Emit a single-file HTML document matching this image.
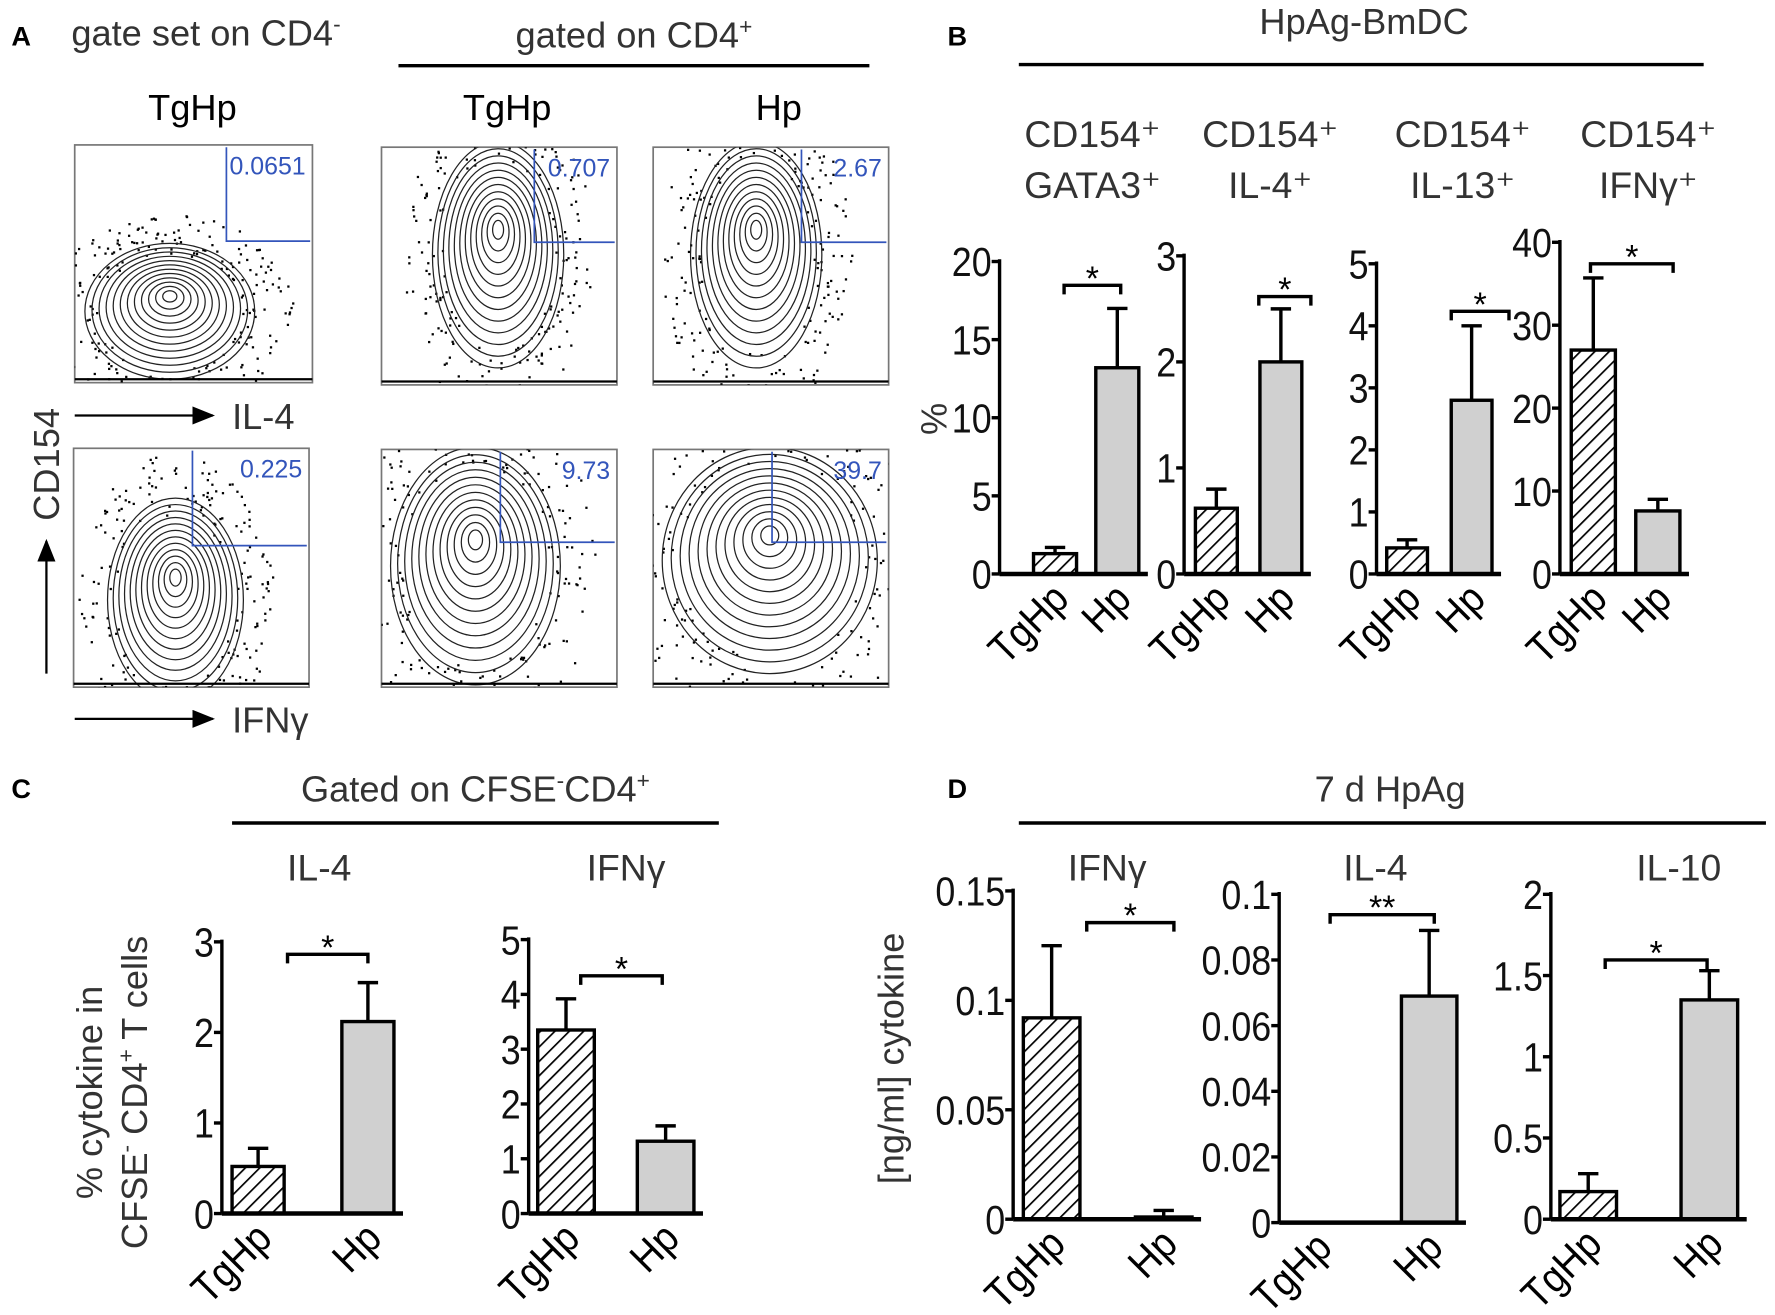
<!DOCTYPE html>
<html><head><meta charset="utf-8">
<style>
html,body{margin:0;padding:0;background:#fff;}
svg{display:block;font-family:"Liberation Sans",sans-serif;}
</style></head>
<body>
<svg id="fig" width="1775" height="1315" viewBox="0 0 1568 1161.6" xmlns="http://www.w3.org/2000/svg">
<defs>
<pattern id="hatch" patternUnits="userSpaceOnUse" width="9" height="9" patternTransform="rotate(45)">
<rect width="9" height="9" fill="#fff"/><line x1="0" y1="0" x2="0" y2="9" stroke="#000" stroke-width="3"/>
</pattern>
<marker id="arr" markerWidth="10" markerHeight="8" refX="9" refY="4" orient="auto"><path d="M0,0 L10,4 L0,8 z" fill="#000"/></marker>
</defs>
<g fill="#333" font-size="32">
<text x="10" y="40" font-weight="bold" font-size="24" fill="#000">A</text>
<text x="63" y="40">gate set on CD4<tspan font-size="20" dy="-12">-</tspan></text>
<text x="560" y="42" text-anchor="middle">gated on CD4<tspan font-size="20" dy="-12">+</tspan></text>
<line x1="352" y1="58" x2="768" y2="58" stroke="#000" stroke-width="3"/>
<text x="170" y="106" text-anchor="middle" fill="#000">TgHp</text>
<text x="448" y="106" text-anchor="middle" fill="#000">TgHp</text>
<text x="688" y="106" text-anchor="middle" fill="#000">Hp</text>
<line x1="66" y1="367" x2="188" y2="367" stroke="#000" stroke-width="2" marker-end="url(#arr)"/>
<text x="205" y="379">IL-4</text>
<line x1="66" y1="635" x2="188" y2="635" stroke="#000" stroke-width="2" marker-end="url(#arr)"/>
<text x="205" y="647">IFNγ</text>
<line x1="41" y1="595" x2="41" y2="478" stroke="#000" stroke-width="2" marker-end="url(#arr)"/>
<text transform="translate(52,460) rotate(-90)">CD154</text>

<text x="837" y="40" font-weight="bold" font-size="24" fill="#000">B</text>
<text x="1205" y="30" text-anchor="middle">HpAg-BmDC</text>
<line x1="900" y1="57" x2="1505" y2="57" stroke="#000" stroke-width="3"/>
<text transform="translate(836,370) rotate(-90)" text-anchor="middle">%</text>

<text x="10" y="705" font-weight="bold" font-size="24" fill="#000">C</text>
<text x="420" y="708" text-anchor="middle">Gated on CFSE<tspan font-size="20" dy="-12">-</tspan><tspan dy="12">CD4</tspan><tspan font-size="20" dy="-12">+</tspan></text>
<line x1="205" y1="727" x2="635" y2="727" stroke="#000" stroke-width="3"/>
<text transform="translate(90,965) rotate(-90)" text-anchor="middle">% cytokine in</text>
<text transform="translate(130,965) rotate(-90)" text-anchor="middle">CFSE<tspan font-size="20" dy="-12">-</tspan><tspan dy="12"> CD4</tspan><tspan font-size="20" dy="-12">+</tspan><tspan dy="12"> T cells</tspan></text>

<text x="837" y="705" font-weight="bold" font-size="24" fill="#000">D</text>
<text x="1228" y="708" text-anchor="middle">7 d HpAg</text>
<line x1="900" y1="727" x2="1560" y2="727" stroke="#000" stroke-width="3"/>
<text transform="translate(798,935) rotate(-90)" text-anchor="middle">[ng/ml] cytokine</text>
</g>
<g id="flow"></g>
<g id="charts"></g>
</svg>
<script>
// ---- chart data ----
const categories = ["TgHp","Hp"];
const bTitles1 = ["CD154⁺","CD154⁺","CD154⁺","CD154⁺"];
const bTitles2 = ["GATA3⁺","IL-4⁺","IL-13⁺","IFNγ⁺"];
const b1Means = [1.3, 13.2];   const b1Err = [1.7, 17];   const b1Ticks = ["0","5","10","15","20"];
const b2Means = [0.62, 2.0];   const b2Err = [0.8, 2.5];  const b2Ticks = ["0","1","2","3"];
const b3Means = [0.42, 2.8];   const b3Err = [0.55, 4.0]; const b3Ticks = ["0","1","2","3","4","5"];
const b4Means = [27, 7.6];     const b4Err = [35.7, 9];   const b4Ticks = ["0","10","20","30","40"];
const c1Means = [0.52, 2.12];  const c1Err = [0.72, 2.55]; const c1Ticks = ["0","1","2","3"];
const c2Means = [3.35, 1.32];  const c2Err = [3.92, 1.6];  const c2Ticks = ["0","1","2","3","4","5"];
const d1Means = [0.092, 0.001]; const d1Err = [0.125, 0.004]; const d1Ticks = ["0","0.05","0.1","0.15"];
const d2Means = [0, 0.069];    const d2Err = [0, 0.089];  const d2Ticks = ["0","0.02","0.04","0.06","0.08","0.1"];
const d3Means = [0.17, 1.35];  const d3Err = [0.28, 1.53]; const d3Ticks = ["0","0.5","1","1.5","2"];
const flowGates = ["0.0651","0.707","2.67","0.225","9.73","39.7"];

const NS="http://www.w3.org/2000/svg";
function mk(tag,attrs,parent){const e=document.createElementNS(NS,tag);for(const k in attrs)e.setAttribute(k,attrs[k]);parent.appendChild(e);return e;}
const root=document.getElementById('charts');

function chart(name,cfg,means,errs,ticks){
  const g=mk('g',{},root);
  
  
  const max=parseFloat(ticks[ticks.length-1]);
  const y=v=>cfg.y0-(v/max)*(cfg.y0-cfg.yTop);
  const bx=[cfg.b0,cfg.b1];
  means.forEach((m,i)=>{
    const cx=bx[i]+cfg.bw/2;
    if(errs[i]>m){
      mk('line',{x1:cx,y1:y(m),x2:cx,y2:y(errs[i]),stroke:'#000','stroke-width':3},g);
      mk('line',{x1:cx-9,y1:y(errs[i]),x2:cx+9,y2:y(errs[i]),stroke:'#000','stroke-width':3},g);
    }
    if(m>0){
      const r=mk('rect',{x:bx[i],y:y(m),width:cfg.bw,height:cfg.y0-y(m),fill:i==0?'url(#hatch)':'#d0d0d0',stroke:'#000','stroke-width':3},g);
      
      
    }
    const t=mk('text',{transform:`translate(${cx+14},${cfg.y0+24}) rotate(-45) scale(0.9,1)`,'text-anchor':'end','font-size':37,fill:'#000'},g);
    t.textContent=categories[i];
    
    
  });
  mk('line',{x1:cfg.ax,y1:cfg.yTop-2,x2:cfg.ax,y2:cfg.y0,stroke:'#000','stroke-width':3},g);
  mk('line',{x1:cfg.ax,y1:cfg.y0,x2:bx[1]+cfg.bw+8,y2:cfg.y0,stroke:'#000','stroke-width':4},g);
  ticks.forEach(tk=>{
    const v=parseFloat(tk);
    mk('line',{x1:cfg.ax-7,y1:y(v),x2:cfg.ax,y2:y(v),stroke:'#000','stroke-width':3},g);
    const t=mk('text',{transform:`translate(${cfg.ax-7},${y(v)+13}) scale(0.88,1)`,'text-anchor':'end','font-size':36,fill:'#111'},g);
    t.textContent=tk;
    
    
  });
  const br=cfg.br;
  mk('path',{d:`M${br[0]},${br[2]+8} V${br[2]} H${br[1]} V${br[2]+8}`,fill:'none',stroke:'#000','stroke-width':3},g);
  const s=mk('text',{x:(br[0]+br[1])/2,y:br[2]+4,'text-anchor':'middle','font-size':30,fill:'#000'},g);
  s.textContent=cfg.star||'*';
  
  
  if(cfg.t1){
    const a=mk('text',{x:cfg.tx,y:cfg.ty,'text-anchor':'middle','font-size':33,fill:'#333'},g);a.textContent=cfg.t1;
    
    
  }
  if(cfg.t2){
    const a=mk('text',{x:cfg.tx,y:cfg.ty+45,'text-anchor':'middle','font-size':33,fill:'#333'},g);a.textContent=cfg.t2;
    
    
  }
}
chart('chart-b-gata3',{ax:883,y0:507,yTop:231,b0:913,b1:968,bw:38,br:[940,990,252],t1:bTitles1[0],t2:bTitles2[0],tx:965,ty:130},b1Means,b1Err,b1Ticks);
chart('chart-b-il4',{ax:1046,y0:507,yTop:226,b0:1056,b1:1113,bw:37,br:[1112,1158,262],t1:bTitles1[1],t2:bTitles2[1],tx:1122,ty:130},b2Means,b2Err,b2Ticks);
chart('chart-b-il13',{ax:1216,y0:507,yTop:233,b0:1225,b1:1282,bw:36,br:[1282,1333,275],t1:bTitles1[2],t2:bTitles2[2],tx:1292,ty:130},b3Means,b3Err,b3Ticks);
chart('chart-b-ifng',{ax:1378,y0:507,yTop:214,b0:1388,b1:1445,bw:39,br:[1405,1478,233],t1:bTitles1[3],t2:bTitles2[3],tx:1456,ty:130},b4Means,b4Err,b4Ticks);
chart('chart-c-il4',{ax:196,y0:1072,yTop:832,b0:205,b1:302,bw:46,br:[254,325,843],t1:'IL-4',tx:282,ty:778},c1Means,c1Err,c1Ticks);
chart('chart-c-ifng',{ax:467,y0:1072,yTop:830,b0:475,b1:563,bw:50,br:[513,585,862],t1:'IFNγ',tx:553,ty:778},c2Means,c2Err,c2Ticks);
chart('chart-d-ifng',{ax:895,y0:1077,yTop:787,b0:904,b1:1003,bw:50,br:[960,1037,815],t1:'IFNγ',tx:978,ty:778},d1Means,d1Err,d1Ticks);
chart('chart-d-il4',{ax:1130,y0:1080,yTop:790,b0:1140,b1:1238,bw:49,br:[1175,1267,808],star:'**',t1:'IL-4',tx:1215,ty:778},d2Means,d2Err,d2Ticks);
chart('chart-d-il10',{ax:1370,y0:1077,yTop:790,b0:1378,b1:1485,bw:50,br:[1418,1508,848],t1:'IL-10',tx:1483,ty:778},d3Means,d3Err,d3Ticks);

// ---- flow plots (illustrative) ----
const flow=document.getElementById('flow');
const plots=[
 {x:66,y:128,w:210,h:210,gx:200,gy:213,cx:150,cy:275,rx:75,ry:60},
 {x:337,y:130,w:208,h:210,gx:472,gy:214,cx:440,cy:225,rx:58,ry:100},
 {x:577,y:130,w:208,h:210,gx:708,gy:214,cx:668,cy:225,rx:58,ry:100},
 {x:65,y:396,w:208,h:211,gx:170,gy:482,cx:155,cy:530,rx:60,ry:90},
 {x:337,y:397,w:208,h:210,gx:442,gy:479,cx:420,cy:500,rx:75,ry:105},
 {x:577,y:397,w:208,h:210,gx:682,gy:479,cx:680,cy:495,rx:95,ry:100}
];
let seed=7;function rnd(){seed=(seed*16807)%2147483647;return seed/2147483647;}
plots.forEach((p,i)=>{
  const g=mk('g',{},flow);
  
  
  const cp=mk('clipPath',{id:'cp'+i},g);
  mk('rect',{x:p.x,y:p.y,width:p.w,height:p.h},cp);
  mk('rect',{x:p.x,y:p.y,width:p.w,height:p.h,fill:'#fff',stroke:'#777','stroke-width':1.5},g);
  const inner=mk('g',{'clip-path':`url(#cp${i})`},g);
  for(let k=0;k<220;k++){
    const a=rnd()*6.283,r=0.85+rnd()*0.6;
    const dx=p.cx+Math.cos(a)*p.rx*r, dy=p.cy+Math.sin(a)*p.ry*r;
    mk('rect',{x:dx,y:dy,width:2,height:2,fill:'#000'},inner);
  }
  for(let k=1;k<=12;k++){
    mk('ellipse',{cx:p.cx,cy:p.cy-(12-k)*p.ry*0.02,rx:p.rx*k/12,ry:p.ry*k/12,fill:'none',stroke:'#222','stroke-width':1.1},inner);
  }
  mk('line',{x1:p.x,y1:p.y+p.h-3,x2:p.x+p.w,y2:p.y+p.h-3,stroke:'#000','stroke-width':2},inner);
  mk('path',{d:`M${p.gx},${p.y+2} V${p.gy} H${p.x+p.w-2}`,fill:'none',stroke:'#3355bb','stroke-width':1.5},g);
  const t=mk('text',{x:p.x+p.w-6,y:p.y+26,'text-anchor':'end','font-size':22,fill:'#3355bb'},g);
  t.textContent=flowGates[i];
  
  
});
</script>
</body></html>
